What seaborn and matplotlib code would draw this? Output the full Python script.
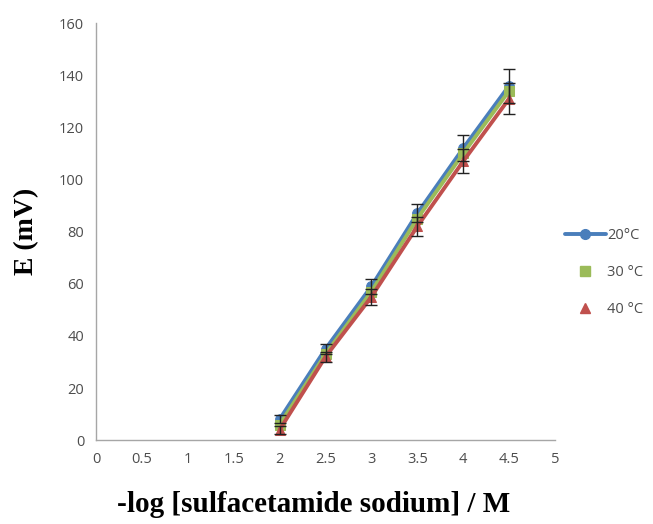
import numpy as np
import pandas as pd
import matplotlib
matplotlib.use("Agg")
import matplotlib.pyplot as plt
import seaborn as sns
from matplotlib.lines import Line2D

# data
log_conc = [2.0, 2.5, 3.0, 3.5, 4.0, 4.5]
e_20 = [8, 35, 59, 87, 112, 136]
e_30 = [6, 33, 57, 85, 110, 134]
e_40 = [4, 32, 55, 82, 107, 131]
err_20 = [1.5, 2, 3, 3.5, 5, 6.5]
err_40 = [1.5, 2, 3, 3.5, 4.5, 6]
series_names = ["20°C", "30 °C", "40 °C"]
colors = ["#4a7ebb", "#9bbb59", "#c0504d"]

df = pd.DataFrame({
    "x": log_conc * 3,
    "E": e_20 + e_30 + e_40,
    "series": [s for s in series_names for _ in log_conc],
})

sns.set_style("white")
fig = plt.figure(figsize=(6.53, 5.24), dpi=100)
ax = fig.add_axes([0.147, 0.160, 0.703, 0.796])

markers = ["o", "s", "^"]
for name, col, mk in zip(series_names, colors, markers):
    sub = df[df["series"] == name]
    sns.lineplot(data=sub, x="x", y="E", ax=ax, color=col, lw=2.8,
                 marker=mk, markersize=7, markeredgecolor=col, legend=False)

# error bars (black caps)
ax.errorbar(log_conc, e_20, yerr=err_20, fmt="none", ecolor="#222222",
            elinewidth=1, capsize=4, capthick=1, zorder=5)
ax.errorbar(log_conc, e_40, yerr=err_40, fmt="none", ecolor="#222222",
            elinewidth=1, capsize=4, capthick=1, zorder=5)

ax.set_xlim(0, 5)
ax.set_ylim(0, 160)
ax.set_xticks(np.arange(0, 5.01, 0.5))
ax.set_xticklabels(["0", "0.5", "1", "1.5", "2", "2.5", "3", "3.5", "4", "4.5", "5"])
ax.set_yticks(np.arange(0, 161, 20))

for s in ["top", "right"]:
    ax.spines[s].set_visible(False)
for s in ["left", "bottom"]:
    ax.spines[s].set_color("#a6a6a6")
    ax.spines[s].set_linewidth(1)
ax.tick_params(axis="both", which="both", direction="out", length=5, width=1,
               color="#a6a6a6", labelcolor="#4d4d4d", labelsize=10.5)
for lbl in ax.get_xticklabels() + ax.get_yticklabels():
    lbl.set_family("Open Sans")

ax.set_xlabel("-log [sulfacetamide sodium] / M", family="Liberation Serif",
              fontweight="bold", fontsize=21, color="black")
ax.set_ylabel("E (mV)", family="Liberation Serif", fontweight="bold",
              fontsize=20, color="black")
ax.xaxis.set_label_coords(0.475, -0.122)
ax.yaxis.set_label_coords(-0.124, 0.5)

handles = [
    Line2D([], [], color=colors[0], lw=2.8, marker="o", markersize=7),
    Line2D([], [], color=colors[1], lw=0, marker="s", markersize=7),
    Line2D([], [], color=colors[2], lw=0, marker="^", markersize=7),
]
leg = fig.legend(handles, series_names, loc="center left",
                 bbox_to_anchor=(0.845, 0.48), frameon=False,
                 labelspacing=1.5, handlelength=2.8, handletextpad=0.1,
                 prop={"family": "Open Sans", "size": 10.5})
for t in leg.get_texts():
    t.set_color("#4d4d4d")

fig.savefig("out.png", dpi=100)
